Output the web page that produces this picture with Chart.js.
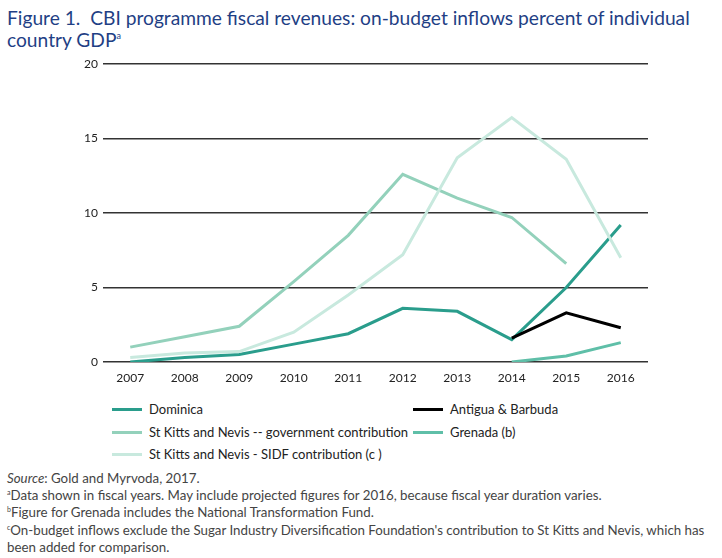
<!DOCTYPE html>
<html>
<head>
<meta charset="utf-8">
<script src="https://cdn.jsdelivr.net/npm/chart.js@4.4.1/dist/chart.umd.min.js"></script>
<style>
  html, body { margin: 0; padding: 0; background: #fff; }
  body { width: 722px; height: 558px; position: relative; overflow: hidden; font-family: Lato, sans-serif; }
  #title { position: absolute; left: 7px; top: 7px; width: 715px; font-size: 19.2px; line-height: 22px; color: #1f3f85; }
  #title sup { font-size: 9px; line-height: 0; vertical-align: 8px; }
  #wrap { position: absolute; left: 0; top: 50px; width: 722px; height: 335px; }
  #legend { position: absolute; left: 112px; top: 400px; width: 600px; font-size: 13px; color: #222; }
  .li { position: absolute; height: 18px; line-height: 18px; white-space: nowrap; }
  .li span { display: inline-block; width: 30px; height: 3px; vertical-align: middle; margin-right: 7px; position: relative; top: -1px; }
  #notes { position: absolute; left: 7px; top: 470px; width: 715px; font-size: 13.3px; line-height: 17.2px; color: #444; white-space: nowrap; }
  #notes sup { font-size: 7px; line-height: 0; vertical-align: 5px; }
</style>
</head>
<body>
<div id="title">Figure 1.&nbsp; CBI programme fiscal revenues: on-budget inflows percent of individual<br>country GDP<sup>a</sup></div>
<div id="wrap"><canvas id="chart"></canvas></div>
<div id="legend"></div>
<div id="notes">
  <div><i>Source</i>: Gold and Myrvoda, 2017.</div>
  <div><sup>a</sup>Data shown in fiscal years. May include projected figures for 2016, because fiscal year duration varies.</div>
  <div><sup>b</sup>Figure for Grenada includes the National Transformation Fund.</div>
  <div><sup>c</sup>On-budget inflows exclude the Sugar Industry Diversification Foundation's contribution to St Kitts and Nevis, which has<br>been added for comparison.</div>
</div>
<script>
// ── data ────────────────────────────────────────────
const YEARS = ["2007", "2008", "2009", "2010", "2011", "2012", "2013", "2014", "2015", "2016"];
const Y_TICKS = [0, 5, 10, 15, 20];

const DOMINICA = [0, 0.3, 0.5, 1.2, 1.9, 3.6, 3.4, 1.5, 5.0, 9.2];
const SKN_GOV = [1.0, 1.7, 2.4, 5.4, 8.5, 12.6, 11.0, 9.7, 6.6, null];
const SKN_SIDF = [0.3, 0.6, 0.7, 2.0, 4.5, 7.2, 13.7, 16.4, 13.6, 7.0];
const ANTIGUA = [null, null, null, null, null, null, null, 1.6, 3.3, 2.3];
const GRENADA = [null, null, null, null, null, null, null, 0, 0.4, 1.3];

const SERIES = [
  { label: "St Kitts and Nevis - SIDF contribution (c )", data: SKN_SIDF, color: "#c8e9de", col: 0, row: 2 },
  { label: "St Kitts and Nevis -- government contribution", data: SKN_GOV, color: "#93d1bb", col: 0, row: 1 },
  { label: "Grenada (b)", data: GRENADA, color: "#5fbfa8", col: 1, row: 1 },
  { label: "Antigua & Barbuda", data: ANTIGUA, color: "#000000", col: 1, row: 0 },
  { label: "Dominica", data: DOMINICA, color: "#2a9d8c", col: 0, row: 0 },
];

// ── legend (two columns, as in the figure) ─────────────
document.getElementById("legend").innerHTML = SERIES.map(
  (s) => `<div class="li" style="left:${s.col ? 301 : 0}px;top:${s.row * 22.5}px">
    <span style="background:${s.color}"></span>${s.label}</div>`,
).join("");

// ── chart ─────────────────────────────────────────
Chart.defaults.font.family = "Lato, sans-serif";
Chart.defaults.font.size = 12;
Chart.defaults.color = "#222";

new Chart(document.getElementById("chart"), {
  type: "line",
  data: {
    labels: YEARS,
    datasets: SERIES.map((s) => ({
      label: s.label,
      data: s.data,
      borderColor: s.color,
      backgroundColor: s.color,
      borderWidth: 3,
      pointRadius: 0,
      tension: 0,
      spanGaps: false,
    })),
  },
  options: {
    responsive: true,
    maintainAspectRatio: false,
    animation: false,
    layout: { padding: { left: 0, right: 74, top: 14, bottom: 0 } },
    plugins: { legend: { display: false }, tooltip: { enabled: false } },
    scales: {
      x: {
        offset: true,
        grid: { display: false, drawTicks: false },
        border: { display: false },
        ticks: { padding: 9, color: "#222", maxRotation: 0 },
        afterFit: (s) => { s.height = 23; },
      },
      y: {
        min: 0,
        max: 20,
        afterBuildTicks: (s) => { s.ticks = Y_TICKS.map((v) => ({ value: v })); },
        grid: { color: "#333", lineWidth: 1.5, drawTicks: false },
        border: { display: false },
        ticks: { padding: 5, color: "#222" },
        afterFit: (s) => { s.width = 103; },
      },
    },
  },
});
</script>
</body>
</html>
